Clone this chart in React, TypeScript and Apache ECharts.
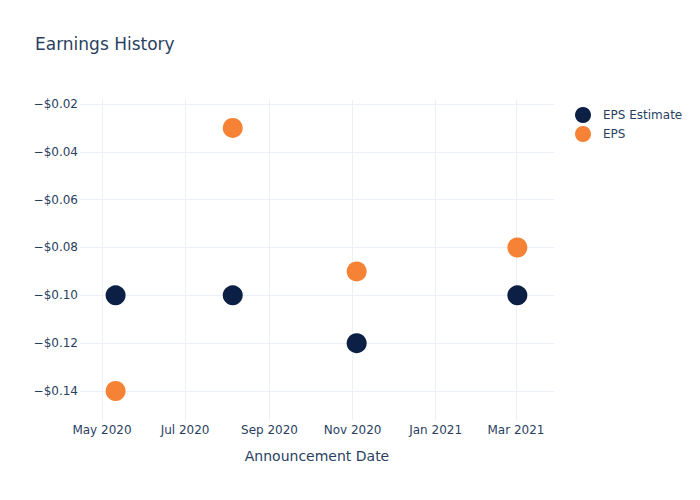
import React, { useEffect, useRef } from "react";
import * as echarts from "echarts";

const announcementDates = ["2020-05-11", "2020-08-05", "2020-11-04", "2021-03-02"];
const epsEstimate = [-0.1, -0.1, -0.12, -0.1];
const epsActual = [-0.14, -0.03, -0.09, -0.08];
const xTickDates = ["2020-05-01", "2020-07-01", "2020-09-01", "2020-11-01", "2021-01-01", "2021-03-01"];
const yTicks = [-0.14, -0.12, -0.1, -0.08, -0.06, -0.04, -0.02];

const MONTHS = ["Jan", "Feb", "Mar", "Apr", "May", "Jun", "Jul", "Aug", "Sep", "Oct", "Nov", "Dec"];
const DAY = 86400000;
const ts = (s: string) => Date.parse(s + "T00:00:00Z");

export default function App() {
  const ref = useRef<HTMLDivElement>(null);
  useEffect(() => {
    if (!ref.current) return;
    const chart = echarts.init(ref.current, undefined, { renderer: "svg" });
    const font = "'DejaVu Sans', verdana, arial, sans-serif";
    const textColor = "#2a3f5f";
    const gridColor = "#ebf0f8";
    const xMin = ts("2020-05-01") - 16.15 * DAY;
    const xMax = ts("2021-03-01") + 27.9 * DAY;
    chart.setOption({
      animation: false,
      backgroundColor: "#ffffff",
      textStyle: { fontFamily: font, color: textColor },
      title: {
        text: "Earnings History",
        left: 30,
        top: 30,
        textStyle: { fontFamily: font, fontSize: 17, fontWeight: "normal", color: textColor },
      },
      legend: {
        orient: "vertical",
        left: 570,
        top: 102,
        itemWidth: 30,
        itemHeight: 16,
        itemGap: 3,
        icon: "circle",
        textStyle: { fontFamily: font, fontSize: 12, color: textColor },
        data: ["EPS Estimate", "EPS"],
      },
      grid: { left: 80, right: 146, top: 100, bottom: 80, containLabel: false },
      xAxis: {
        type: "value",
        min: xMin,
        max: xMax,
        name: "Announcement Date",
        nameLocation: "middle",
        nameGap: 29,
        nameTextStyle: { fontFamily: font, fontSize: 14, color: textColor },
        axisLine: { show: false },
        axisTick: { show: false, customValues: xTickDates.map(ts) },
        axisLabel: {
          customValues: xTickDates.map(ts),
          margin: 4,
          fontFamily: font,
          fontSize: 12,
          color: textColor,
          formatter: (v: number) => {
            const d = new Date(v);
            return MONTHS[d.getUTCMonth()] + " " + d.getUTCFullYear();
          },
        },
        splitLine: { show: true, lineStyle: { color: gridColor, width: 1 } },
      },
      yAxis: {
        type: "value",
        min: -0.15213,
        max: -0.01833,
        axisLine: { show: false },
        axisTick: { show: false, customValues: yTicks },
        axisLabel: {
          customValues: yTicks,
          margin: 2,
          fontFamily: font,
          fontSize: 12,
          color: textColor,
          formatter: (v: number) => (v < 0 ? "\u2212" : "") + "$" + Math.abs(v).toFixed(2),
        },
        splitLine: { show: true, lineStyle: { color: gridColor, width: 1 } },
      },
      series: [
        {
          name: "EPS Estimate",
          type: "scatter",
          symbol: "circle",
          symbolSize: 20,
          itemStyle: { color: "#0c1f44", opacity: 1 },
          data: announcementDates.map((d, i) => [ts(d), epsEstimate[i]]),
        },
        {
          name: "EPS",
          type: "scatter",
          symbol: "circle",
          symbolSize: 20,
          itemStyle: { color: "#f68335", opacity: 1 },
          data: announcementDates.map((d, i) => [ts(d), epsActual[i]]),
        },
      ],
    });
    return () => chart.dispose();
  }, []);
  return <div ref={ref} style={{ width: 700, height: 500, position: "absolute", left: 0, top: 0 }} />;
}
